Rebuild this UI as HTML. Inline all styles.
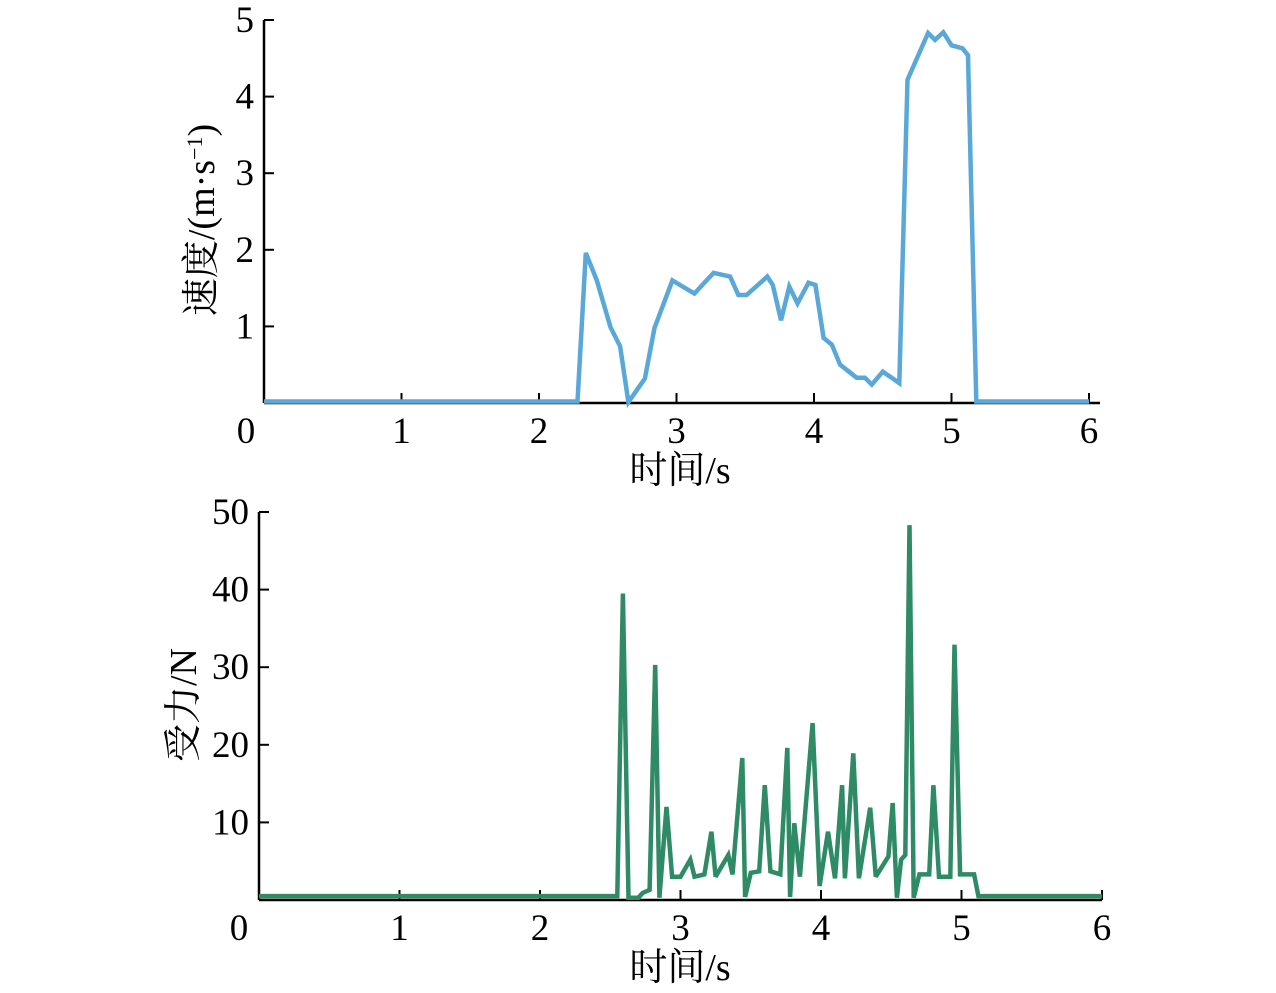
<!DOCTYPE html>
<html><head><meta charset="utf-8"><style>
body{margin:0;background:#fff;width:1276px;height:993px;overflow:hidden}
svg{display:block}
text{font-family:"Liberation Serif","Noto Serif CJK SC",serif;fill:#000}
</style></head><body>
<svg id="chart" width="1276" height="993"></svg>
<script>
const velT=[0,2.28,2.34,2.42,2.52,2.59,2.65,2.77,2.84,2.97,3.13,3.27,3.39,3.45,3.51,3.66,3.70,3.76,3.82,3.88,3.96,4.01,4.07,4.13,4.19,4.31,4.37,4.42,4.50,4.62,4.68,4.83,4.88,4.94,5.0,5.08,5.12,5.18,6.0];
const velV=[0.02,0.02,1.96,1.6,0.99,0.74,0.01,0.32,0.98,1.6,1.43,1.7,1.65,1.41,1.41,1.65,1.54,1.08,1.52,1.3,1.57,1.54,0.85,0.76,0.5,0.33,0.33,0.24,0.41,0.26,4.22,4.83,4.74,4.84,4.67,4.63,4.54,0.02,0.02];
const forT=[0,2.55,2.59,2.63,2.70,2.73,2.78,2.82,2.85,2.90,2.94,3.0,3.07,3.1,3.17,3.22,3.25,3.34,3.37,3.44,3.46,3.5,3.56,3.60,3.64,3.71,3.76,3.78,3.81,3.85,3.94,3.99,4.05,4.10,4.15,4.17,4.23,4.27,4.35,4.39,4.48,4.51,4.54,4.57,4.60,4.63,4.66,4.7,4.77,4.80,4.84,4.92,4.95,4.99,5.09,5.12,6.0];
const forV=[0.5,0.5,39.5,0.3,0.3,0.9,1.3,30.3,0.3,12,3,3,5.2,3,3.3,8.8,3,5.8,3.3,18.3,0.4,3.5,3.7,14.8,3.7,3.3,19.6,0.4,9.9,3,22.8,1.8,8.8,2.8,14.8,2.8,18.9,2.8,11.9,3,5.6,12.5,0.3,5.2,5.8,48.3,0.3,3.3,3.3,14.8,3,3,32.9,3.3,3.3,0.5,0.5];
const xTicks=[0,1,2,3,4,5,6];
const vTicks=[1,2,3,4,5];
const fTicks=[10,20,30,40,50];
const NS="http://www.w3.org/2000/svg";
const svg=document.getElementById('chart');
function mk(tag,attrs,txt){const e=document.createElementNS(NS,tag);for(const k in attrs)e.setAttribute(k,attrs[k]);if(txt!==undefined)e.textContent=txt;svg.appendChild(e);return e;}
function panel(p){
  const xs=t=>p.x0+t*p.xs, ys=v=>p.y0-v*p.ys;
  let e=mk('line',{x1:p.x0,y1:p.y0,x2:p.xEnd,y2:p.y0,stroke:'#000','stroke-width':2.5});
  
  e=mk('line',{x1:p.x0,y1:p.y0,x2:p.x0,y2:ys(p.yT[p.yT.length-1]),stroke:'#000','stroke-width':2.5});
  
  xTicks.forEach((t,i)=>{
    if(t>0){const l=mk('line',{x1:xs(t),y1:p.y0,x2:xs(t),y2:p.y0-10,stroke:'#000','stroke-width':2});
    }
    const tx=mk('text',{x:t===0?xs(t)-(p.id==='force'?20:18):xs(t),y:p.y0+40,'text-anchor':'middle','font-size':37},String(t));
    
  });
  p.yT.forEach(v=>{
    const l=mk('line',{x1:p.x0,y1:ys(v),x2:p.x0+10,y2:ys(v),stroke:'#000','stroke-width':2});
    
    const tx=mk('text',{x:p.x0-10,y:ys(v)+12,'text-anchor':'end','font-size':37},String(v));
    
  });
  const d=p.T.map((t,i)=>(i?'L':'M')+xs(t).toFixed(1)+','+ys(p.V[i]).toFixed(1)).join('');
  const path=mk('path',{d:d,fill:'none',stroke:p.color,'stroke-width':4.5,'stroke-linejoin':'miter','stroke-miterlimit':3});
  
  const xt=mk('text',{x:680,y:p.y0+80,'text-anchor':'middle','font-size':38},'时间/s');
  
  const yt=mk('text',{x:0,y:0,'text-anchor':'middle','font-size':38,transform:'translate('+p.ytx+','+p.yty+') rotate(-90)'},p.ytitle);
  
  return yt;
}
const yt1=panel({id:'velocity',x0:264,xs:137.5,xEnd:1100,y0:403,ys:76.6,yT:vTicks,T:velT,V:velV,color:'#5aa8d8',ytitle:'',ytx:214,yty:220});
yt1.innerHTML='速度/(m·s<tspan baseline-shift="super" font-size="22">−1</tspan>)';
panel({id:'force',x0:259,xs:140.5,xEnd:1102,y0:900,ys:7.76,yT:fTicks,T:forT,V:forV,color:'#2e8b66',ytitle:'受力/N',ytx:196,yty:705});
</script>
</body></html>
